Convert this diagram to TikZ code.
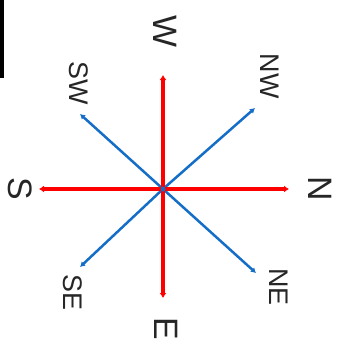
\documentclass[tikz,border=0pt]{standalone}
\usepackage{fontspec}
\setmainfont{Liberation Sans}
\usetikzlibrary{arrows.meta}
\definecolor{compblue}{RGB}{20,110,200}
\begin{document}
\begin{tikzpicture}[x=1bp,y=-1bp,
  lbl/.style={rotate=-90, inner sep=0pt, font=\fontsize{34}{34}\selectfont, text=black!85},
  dlbl/.style={lbl, font=\fontsize{27}{27}\selectfont},
  redarr/.style={draw=red, line width=3.2bp, -{Latex[length=5bp,width=7bp]}},
  bluearr/.style={draw=compblue, line width=2.5bp, -{Latex[length=5bp,width=6bp]}}]
\useasboundingbox (0,0) rectangle (343,348);
\fill[black] (0,0) rectangle (4,78);
\coordinate (c) at (163,189);
\coordinate (pW) at (163,75);
\coordinate (pE) at (163,298);
\coordinate (pS) at (39,189);
\coordinate (pN) at (289,189);
\coordinate (pNW) at (255,108);
\coordinate (pSW) at (80,114);
\coordinate (pSE) at (80,267);
\coordinate (pNE) at (256,273);
\draw[bluearr] (c) -- (pNW);
\draw[bluearr] (c) -- (pSW);
\draw[bluearr] (c) -- (pSE);
\draw[bluearr] (c) -- (pNE);
\draw[redarr] (c) -- (pW);
\draw[redarr] (c) -- (pE);
\draw[redarr] (c) -- (pS);
\draw[redarr] (c) -- (pN);
\fill[compblue] (c) circle (2.5);
\node[lbl] (W) at (165,31) {W};
\node[lbl] (E) at (166,329) {E};
\node[lbl] (S) at (20,189) {S};
\node[lbl] (N) at (320,189) {N};
\node[dlbl] (NW) at (270,76) {NW};
\node[dlbl] (SW) at (79,83) {SW};
\node[dlbl] (SE) at (73,292) {SE};
\node[dlbl] (NE) at (279,287) {NE};
\end{tikzpicture}
\end{document}
